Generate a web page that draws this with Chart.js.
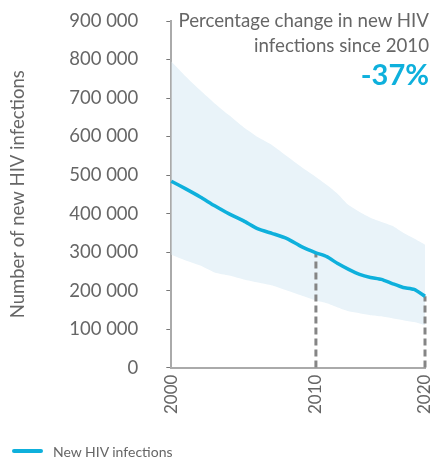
<!DOCTYPE html>
<html>
<head>
<meta charset="utf-8">
<script src="https://cdn.jsdelivr.net/npm/chart.js@4.4.1/dist/chart.umd.min.js"></script>
<style>
  html, body { margin: 0; padding: 0; background: #fff; }
  #wrap { position: relative; width: 433px; height: 460px; }
  canvas { position: absolute; left: 0; top: 0; }
  .note { position: absolute; right: 4px; text-align: right; font-family: Lato, "Open Sans", sans-serif; color: #666; white-space: nowrap; }
  #n1 { top: 8px; font-size: 18.7px; line-height: 25px; }
  #n2 { top: 58px; font-size: 29px; font-weight: bold; color: #0eb0dc; line-height: 32px; }
  #legend { position: absolute; left: 12px; top: 442px; height: 18px; display: flex; align-items: center; font-family: Lato, "Open Sans", sans-serif; font-size: 14px; color: #666; }
  #legend .swatch { width: 31px; height: 4px; border-radius: 2px; background: #0eb0dc; margin-right: 10px; }
</style>
</head>
<body>
<div id="wrap">
  <canvas id="c" width="433" height="460"></canvas>
  <div class="note" id="n1">Percentage change in new HIV<br>infections since 2010</div>
  <div class="note" id="n2">-37%</div>
  <div id="legend"><span class="swatch"></span><span id="legendText"></span></div>
</div>
<script>
const years = [2000, 2001, 2002, 2003, 2004, 2005, 2006, 2007, 2008, 2009, 2010,
               2011, 2012, 2013, 2014, 2015, 2016, 2017, 2018, 2019, 2020];
const estimate = [484000, 464000, 443000, 420000, 399000, 381000, 360000, 348000, 335000, 314000, 298000,
                  288000, 270000, 255000, 242000, 234000, 229000, 218000, 208000, 203000, 185000];
const upper = [795000, 756000, 720000, 686000, 655000, 624000, 598000, 577000, 549000, 521000, 495000,
               474000, 451000, 422000, 404000, 389000, 378000, 368000, 350000, 335000, 319000];
const lower = [293000, 278000, 265000, 247000, 239000, 229000, 221000, 213000, 200000, 187000, 174000,
               167000, 156000, 146000, 141000, 136000, 133000, 128000, 123000, 118000, 110000];
const xTicks = [2000, 2010, 2020];
const yTicks = [0, 100000, 200000, 300000, 400000, 500000, 600000, 700000, 800000, 900000];
const markerYears = [2010, 2020];
const seriesName = 'New HIV infections';
const yTitle = 'Number of new HIV infections';

document.getElementById('legendText').textContent = seriesName;

// x-axis layout of the reference: 2010 sits at 57% of the axis width
const xBreaks = [[2000, 0], [2010, 0.57], [2020, 1]];

class PiecewiseScale extends Chart.LinearScale {
  mapDecimal(v) {
    for (let i = 1; i < xBreaks.length; i++) {
      const [a, fa] = xBreaks[i - 1], [b, fb] = xBreaks[i];
      if (v <= b || i === xBreaks.length - 1) return fa + (v - a) / (b - a) * (fb - fa);
    }
  }
  getPixelForValue(value) {
    if (value === null || value === undefined || isNaN(value)) return NaN;
    return this.getPixelForDecimal(this.mapDecimal(value));
  }
  getValueForPixel(pixel) {
    const d = this.getDecimalForPixel(pixel);
    for (let i = 1; i < xBreaks.length; i++) {
      const [a, fa] = xBreaks[i - 1], [b, fb] = xBreaks[i];
      if (d <= fb || i === xBreaks.length - 1) return a + (d - fa) / (fb - fa) * (b - a);
    }
  }
}
PiecewiseScale.id = 'piecewise';
PiecewiseScale.defaults = {};
Chart.register(PiecewiseScale);

const pts = arr => years.map((y, i) => ({ x: y, y: arr[i] }));
const FONT = 'Lato, "Open Sans", sans-serif';
const GREY = '#666';
const noPad = s => { s.paddingLeft = 0; s.paddingRight = 0; s.paddingTop = 0; s.paddingBottom = 0; };

const markerSets = markerYears.map(yr => ({
  label: 'm' + yr,
  data: [{ x: yr, y: 0 }, { x: yr, y: estimate[years.indexOf(yr)] }],
  borderColor: '#858585',
  borderWidth: 3,
  borderDash: [7, 4],
  pointRadius: 0,
  fill: false,
  clip: false,
  order: 2
}));

new Chart(document.getElementById('c'), {
  type: 'line',
  data: {
    datasets: [
      {
        label: seriesName,
        data: pts(estimate),
        borderColor: '#0eb0dc',
        backgroundColor: '#0eb0dc',
        borderWidth: 3.5,
        pointRadius: 0,
        tension: 0.2,
        fill: false,
        clip: false,
        order: 1
      },
      ...markerSets,
      {
        label: 'upper',
        data: pts(upper),
        borderWidth: 0,
        borderColor: 'rgba(0,0,0,0)',
        backgroundColor: '#e9f3f9',
        pointRadius: 0,
        tension: 0.2,
        fill: '+1',
        order: 3
      },
      {
        label: 'lower',
        data: pts(lower),
        borderWidth: 0,
        borderColor: 'rgba(0,0,0,0)',
        backgroundColor: '#e9f3f9',
        pointRadius: 0,
        tension: 0.2,
        fill: false,
        order: 3
      }
    ]
  },
  options: {
    responsive: false,
    animation: false,
    layout: { padding: { top: 21, right: 8, left: 7, bottom: 39 } },
    plugins: {
      tooltip: { enabled: false },
      legend: { display: false }
    },
    scales: {
      x: {
        type: 'piecewise',
        min: 2000,
        max: 2020,
        afterBuildTicks: s => { s.ticks = xTicks.map(v => ({ value: v })); },
        afterFit: noPad,
        ticks: {
          minRotation: 90,
          maxRotation: 90,
          color: GREY,
          font: { family: FONT, size: 17 },
          padding: 7,
          callback: v => String(v)
        },
        grid: { display: false, drawTicks: false },
        border: { display: true, color: '#aaa', width: 2 }
      },
      y: {
        min: 0,
        max: 900000,
        afterBuildTicks: s => { s.ticks = yTicks.map(v => ({ value: v })); },
        afterFit: noPad,
        ticks: {
          color: GREY,
          font: { family: FONT, size: 18.5 },
          padding: 28,
          callback: v => String(v).replace(/\B(?=(\d{3})+(?!\d))/g, ' ')
        },
        grid: { drawOnChartArea: false, drawTicks: true, tickLength: 5, tickWidth: 1, tickColor: '#777' },
        border: { display: true, color: '#aaa', width: 2 },
        title: {
          display: true,
          text: yTitle,
          color: GREY,
          font: { family: FONT, size: 18.5 },
          padding: { top: 0, bottom: 12 }
        }
      }
    }
  }
});
</script>
</body>
</html>
